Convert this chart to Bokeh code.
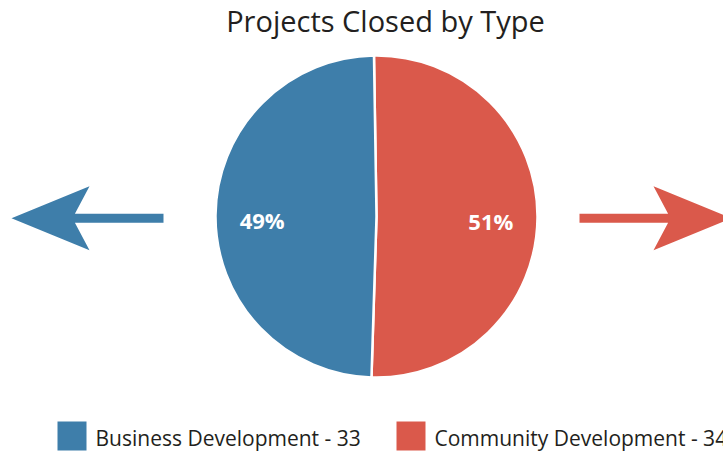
import numpy as np
from bokeh.plotting import figure
from bokeh.models import Range1d, ColumnDataSource
from bokeh.core.properties import value
from bokeh.embed import file_html
from bokeh.resources import INLINE

# ---- data ----
title_text = "Projects Closed by Type"
categories = ["Business Development", "Community Development"]
counts = [33, 34]
colors = ["#3e7eaa", "#da594b"]

# ---- layout (reference pixel space, y measured downward) ----
W, H = 723, 453
REF_H = 453
def Y(ref_y):
    return REF_H - ref_y

FONT = "Open Sans"
cx, cy, R = 376, 216, 161
start_deg = 90.9

p = figure(width=W, height=H, output_backend="svg", toolbar_location=None,
           x_range=Range1d(0, W), y_range=Range1d(Y(H), Y(0)),
           min_border=0, outline_line_color=None)
p.axis.visible = False
p.grid.visible = False
p.background_fill_color = "white"
p.border_fill_color = "white"

# pie
vals = np.array(counts, dtype=float)
frac = vals / vals.sum()
# red slice (Community) first clockwise from the top, then blue
order = [1, 0]
starts, ends, fills, mids = [], [], [], []
a = np.deg2rad(start_deg)
for i in order:
    span = frac[i] * 2 * np.pi
    starts.append(a)
    ends.append(a - span)
    mids.append(a - span / 2)
    fills.append(colors[i])
    a -= span
src = ColumnDataSource(dict(x=[cx] * 2, y=[Y(cy)] * 2, s=ends, e=starts, c=fills))
p.wedge(x="x", y="y", radius=R, start_angle="s", end_angle="e", source=src,
        fill_color="c", line_color="white", line_width=2.5)

# percentage labels
lab_r = 0.71 * R
lx = [cx + lab_r * np.cos(m) for m in mids]
ly = [Y(cy) + lab_r * np.sin(m) - 4 for m in mids]
ltxt = [f"{round(frac[i] * 100)}%" for i in order]
p.text(x=lx, y=ly, text=ltxt, text_color="white", text_font=value(FONT),
       text_font_style="bold", text_font_size="22px", text_align="center",
       text_baseline="middle")

# title
p.text(x=[385], y=[Y(20)], text=[title_text], text_color="#231f20",
       text_font=value(FONT), text_font_size="29px", text_align="center",
       text_baseline="alphabetic")

# arrows (decorative)
def arrow(tip_x, direction, shaft_end_x, color):
    d = direction  # -1 pointing left, +1 pointing right
    cyy = 217.8
    head_len, notch, half_w, sh = 78, 61, 32, 4.5
    back = tip_x - d * head_len
    nx = tip_x - d * notch
    t = sh / half_w
    nx_s = nx + (back - nx) * t
    xs = [tip_x, back, nx_s, shaft_end_x, shaft_end_x, nx_s, back]
    ys = [cyy, cyy - half_w, cyy - sh, cyy - sh, cyy + sh, cyy + sh, cyy + half_w]
    p.patch(x=xs, y=[Y(v) for v in ys], fill_color=color, line_color=None)

arrow(11, -1, 163, colors[0])
arrow(731, 1, 579, colors[1])

# legend
leg_y = 421
sq = 29
sq_x = [57, 396]
for i in range(2):
    p.quad(left=[sq_x[i]], right=[sq_x[i] + sq], top=[Y(leg_y)],
           bottom=[Y(leg_y + sq)], fill_color=colors[i], line_color=None)
    p.text(x=[sq_x[i] + 38], y=[Y(437)],
           text=[f"{categories[i]} - {counts[i]}"], text_color="#231f20",
           text_font=value(FONT), text_font_size="21px", text_align="left",
           text_baseline="alphabetic")

open("out.html", "w").write(file_html(p, INLINE))
